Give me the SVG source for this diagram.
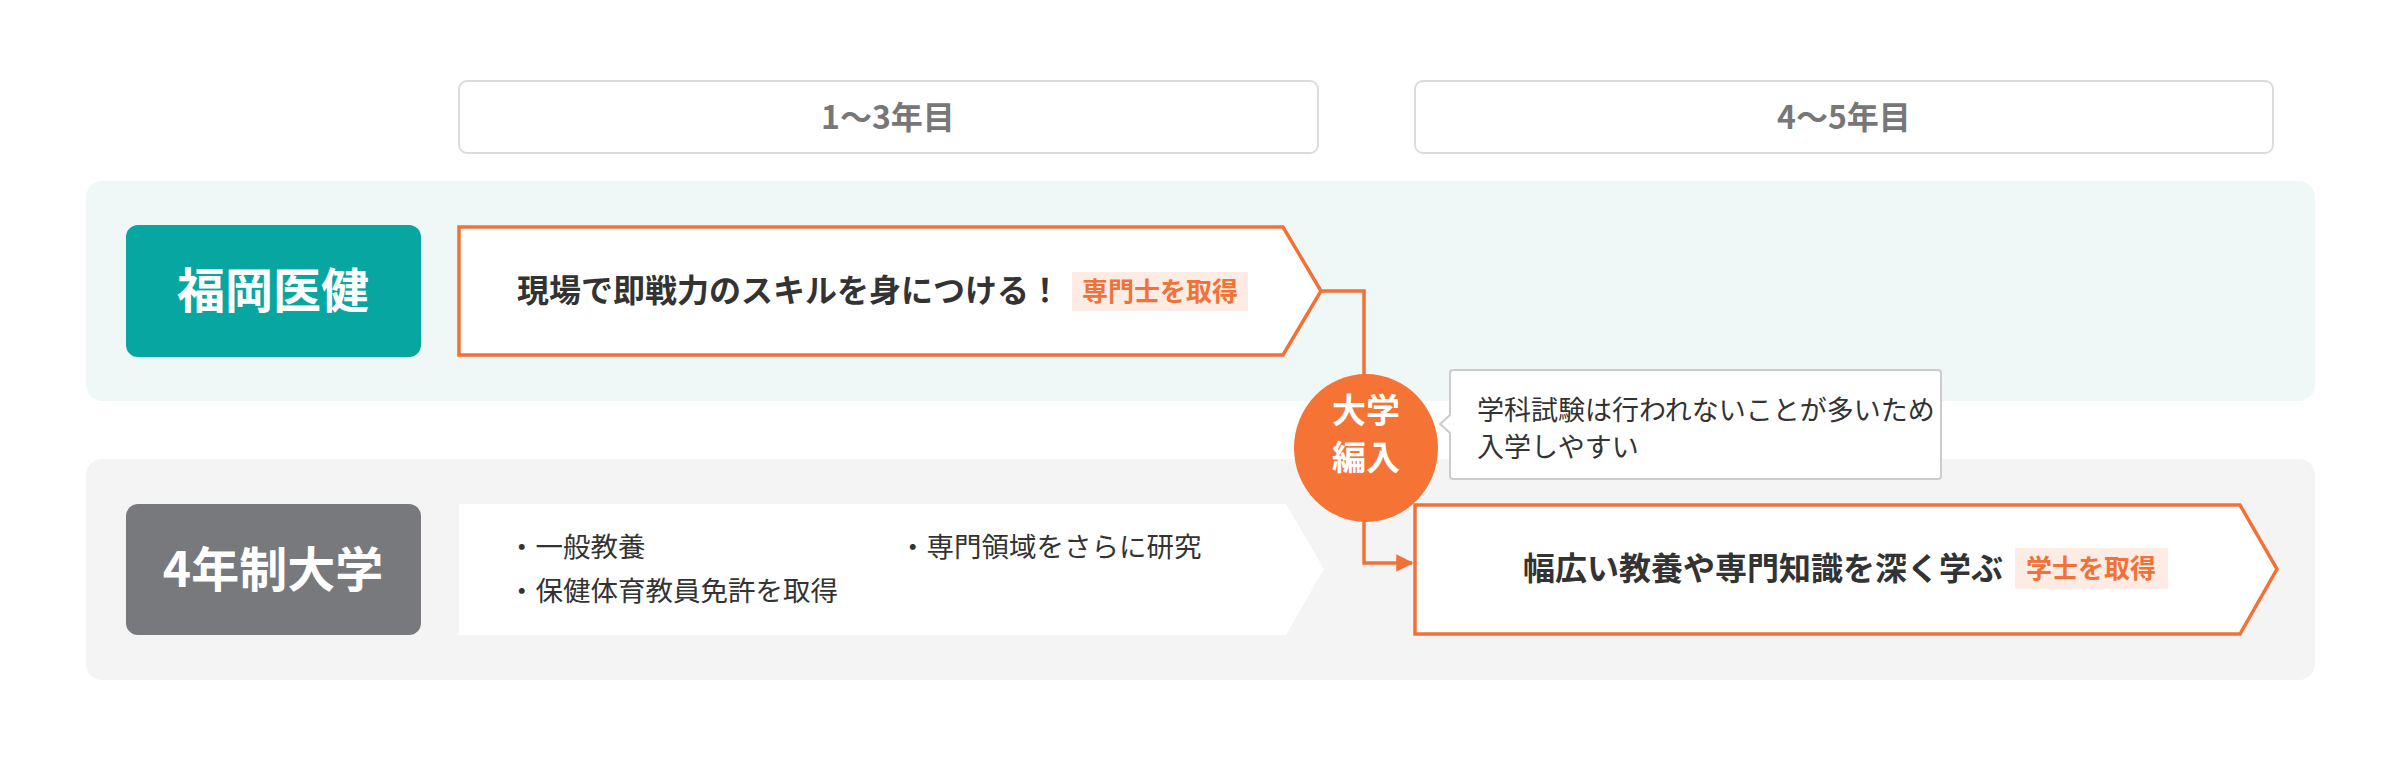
<svg xmlns="http://www.w3.org/2000/svg" width="2400" height="761" viewBox="0 0 2400 761">
<defs>
<style>
text{font-family:"Noto Sans CJK JP","Noto Sans",sans-serif}
.hdr{fill:#fff;stroke:#dcdcdc;stroke-width:2}
.ht{font-size:32px;font-weight:bold;fill:#777;text-anchor:middle}
.lbl{font-size:48px;font-weight:bold;fill:#fff;text-anchor:middle}
.main{font-size:32px;font-weight:bold;fill:#333}
.badge{fill:#fdece3}
.bt{font-size:26px;font-weight:bold;fill:#f07238;text-anchor:middle}
.bul{font-size:27.5px;fill:#333}
.orange{fill:none;stroke:#f07238;stroke-width:3.5}
</style>
<marker id="ah" viewBox="0 0 10 10" refX="9" refY="5" markerWidth="5" markerHeight="5" orient="auto"><path d="M0,0L10,5L0,10z" fill="#f07238"/></marker>
</defs>
<rect width="2400" height="761" fill="#fff"/>
<g id="headers">
<rect class="hdr" x="459" y="81" width="859" height="72" rx="8"/>
<text class="ht" x="888" y="129">1～3年目</text>
<rect class="hdr" x="1415" y="81" width="858" height="72" rx="8"/>
<text class="ht" x="1844" y="129">4～5年目</text>
</g>
<rect x="86" y="181" width="2229" height="220" rx="16" fill="#eff8f6"/>
<rect x="86" y="459" width="2229" height="221" rx="16" fill="#f4f4f4"/>
<g id="fukuoka">
<rect x="126" y="225" width="295" height="132" rx="12" fill="#07a6a1"/>
<text class="lbl" x="273" y="308">福岡医健</text>
</g>
<g id="univ4">
<rect x="126" y="504" width="295" height="131" rx="12" fill="#77797c"/>
<text class="lbl" x="273" y="587">4年制大学</text>
</g>
<g id="top-arrow">
<path d="M459,227H1283L1321,291L1283,355H459Z" fill="#fff" stroke="#f07238" stroke-width="3.5"/>
<text class="main" x="517" y="302">現場で即戦力のスキルを身につける！</text>
<rect class="badge" x="1072" y="272" width="176" height="39"/>
<text class="bt" x="1160" y="301">専門士を取得</text>
</g>
<g id="bottom-left">
<path d="M459,504H1286L1324,569L1286,635H459Z" fill="#fff"/>
<text class="bul" x="508" y="557">・一般教養</text>
<text class="bul" x="508" y="601">・保健体育教員免許を取得</text>
<text class="bul" x="899" y="557">・専門領域をさらに研究</text>
</g>
<g id="connectors">
<path class="orange" d="M1321,291H1364V563H1412" marker-end="url(#ah)"/>
</g>
<g id="transfer">
<ellipse cx="1366" cy="448" rx="72" ry="74" fill="#f47335"/>
<text x="1366" y="423" font-size="34" font-weight="bold" fill="#fff" text-anchor="middle">大学</text>
<text x="1366" y="470" font-size="34" font-weight="bold" fill="#fff" text-anchor="middle">編入</text>
</g>
<g id="callout">
<path d="M1453,370H1938a3,3 0 0 1 3,3V476a3,3 0 0 1 -3,3H1453a3,3 0 0 1 -3,-3V433L1440,424L1450,415V373a3,3 0 0 1 3,-3Z" fill="#fff" stroke="#ccc" stroke-width="2"/>
<text x="1477" y="420" font-size="27" fill="#333">学科試験は行われないことが多いため</text>
<text x="1477" y="457" font-size="27" fill="#333">入学しやすい</text>
</g>
<g id="bottom-right-arrow">
<path d="M1415,505H2240L2277,569L2240,634H1415Z" fill="#fff" stroke="#f07238" stroke-width="3.5"/>
<text class="main" x="1523" y="580">幅広い教養や専門知識を深く学ぶ</text>
<rect class="badge" x="2015" y="548" width="153" height="41"/>
<text class="bt" x="2091" y="578">学士を取得</text>
</g>
</svg>
